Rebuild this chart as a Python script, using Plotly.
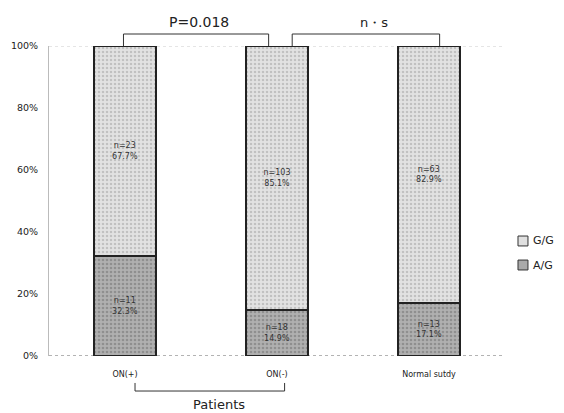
import plotly.graph_objects as go

categories = ["ON(+)", "ON(-)", "Normal sutdy"]
ag_pct = [32.3, 14.9, 17.1]
gg_pct = [67.7, 85.1, 82.9]
ag_n = [11, 18, 13]
gg_n = [23, 103, 63]
y_ticks = [0, 20, 40, 60, 80, 100]
y_tick_labels = [f"{v}%" for v in y_ticks]
legend_names = ["G/G", "A/G"]
legend_colors = ["#e0e0e0", "#a9a9a9"]

FONT = "DejaVu Sans"

fig = go.Figure()
fig.add_trace(go.Bar(
    x=categories, y=ag_pct, name="A/G",
    text=[f"n={n}<br>{p}%" for n, p in zip(ag_n, ag_pct)],
    textposition="inside", insidetextanchor="middle",
    textfont=dict(size=8, color="#333", family=FONT),
    marker=dict(color="#a9a9a9", line=dict(color="#222", width=1.5),
                pattern=dict(shape=".", fgcolor="#6e6e6e", bgcolor="#b0b0b0", size=4, solidity=0.35)),
    width=0.41, showlegend=False,
))
fig.add_trace(go.Bar(
    x=categories, y=gg_pct, name="G/G",
    text=[f"n={n}<br>{p}%" for n, p in zip(gg_n, gg_pct)],
    textposition="inside", insidetextanchor="middle",
    textfont=dict(size=8, color="#333", family=FONT),
    marker=dict(color="#dcdcdc", line=dict(color="#222", width=1.5),
                pattern=dict(shape=".", fgcolor="#a0a0a0", bgcolor="#e2e2e2", size=4, solidity=0.3)),
    width=0.41, showlegend=False,
))

line = dict(color="#333", width=1)
# top brackets
fig.add_shape(type="path", xref="x", yref="paper",
              path="M -0.01,1.0 L -0.01,1.0387 L 0.945,1.0387 L 0.945,1.0", line=line)
fig.add_shape(type="path", xref="x", yref="paper",
              path="M 1.1,1.0 L 1.1,1.0387 L 2.07,1.0387 L 2.07,1.0", line=line)
# bottom bracket
fig.add_shape(type="path", xref="x", yref="paper",
              path="M 0.066,-0.087 L 0.066,-0.113 L 1.05,-0.113 L 1.05,-0.087", line=line)

fig.add_annotation(x=0.49, y=1.077, xref="x", yref="paper", text="P=0.018",
                   xanchor="center", yanchor="middle",
                   showarrow=False, font=dict(size=14, color="#222", family=FONT))
fig.add_annotation(x=1.64, y=1.077, xref="x", yref="paper", text="n・s",
                   xanchor="center", yanchor="middle",
                   showarrow=False, font=dict(size=13, color="#222", family=FONT))
fig.add_annotation(x=0.62, y=-0.158, xref="x", yref="paper", text="Patients",
                   xanchor="center", yanchor="middle",
                   showarrow=False, font=dict(size=13, color="#222", family=FONT))

# manual legend (G/G above A/G)
for i, (name, col) in enumerate(zip(legend_names, legend_colors)):
    y0 = 0.355 - i * 0.0775
    fig.add_shape(type="rect", xref="paper", yref="paper",
                  x0=1.0285, x1=1.0504, y0=y0, y1=y0 + 0.032,
                  fillcolor=col, line=dict(color="#333", width=1))
    fig.add_annotation(x=1.056, y=y0 + 0.016, xref="paper", yref="paper", text=name,
                       xanchor="left", yanchor="middle", showarrow=False,
                       font=dict(size=11, color="#222", family=FONT))

fig.update_layout(
    barmode="stack",
    width=556, height=405,
    margin=dict(l=41, r=59, t=38, b=57, autoexpand=False),
    paper_bgcolor="white", plot_bgcolor="white",
    font=dict(family=FONT, color="#222"),
    showlegend=False,
    xaxis=dict(range=[-0.5, 2.5], showline=False, showgrid=False, ticks="",
               automargin=False, ticklabelstandoff=12,
               tickfont=dict(size=8, color="#222", family=FONT)),
    yaxis=dict(range=[0, 100], tickvals=y_ticks, ticktext=y_tick_labels,
               showgrid=False, zeroline=False, showline=True, linecolor="#bbb",
               linewidth=1, ticks="", ticklabelstandoff=8, automargin=False,
               tickfont=dict(size=9.5, color="#222", family=FONT)),
)
# dotted baseline and top gridline
fig.add_shape(type="line", xref="paper", yref="y", x0=0, x1=1, y0=0, y1=0,
              line=dict(color="#666", width=1, dash="dot"), layer="below")
fig.add_shape(type="line", xref="paper", yref="y", x0=0, x1=1, y0=100, y1=100,
              line=dict(color="#ccc", width=1, dash="dot"), layer="below")

fig.write_html("out.html")
